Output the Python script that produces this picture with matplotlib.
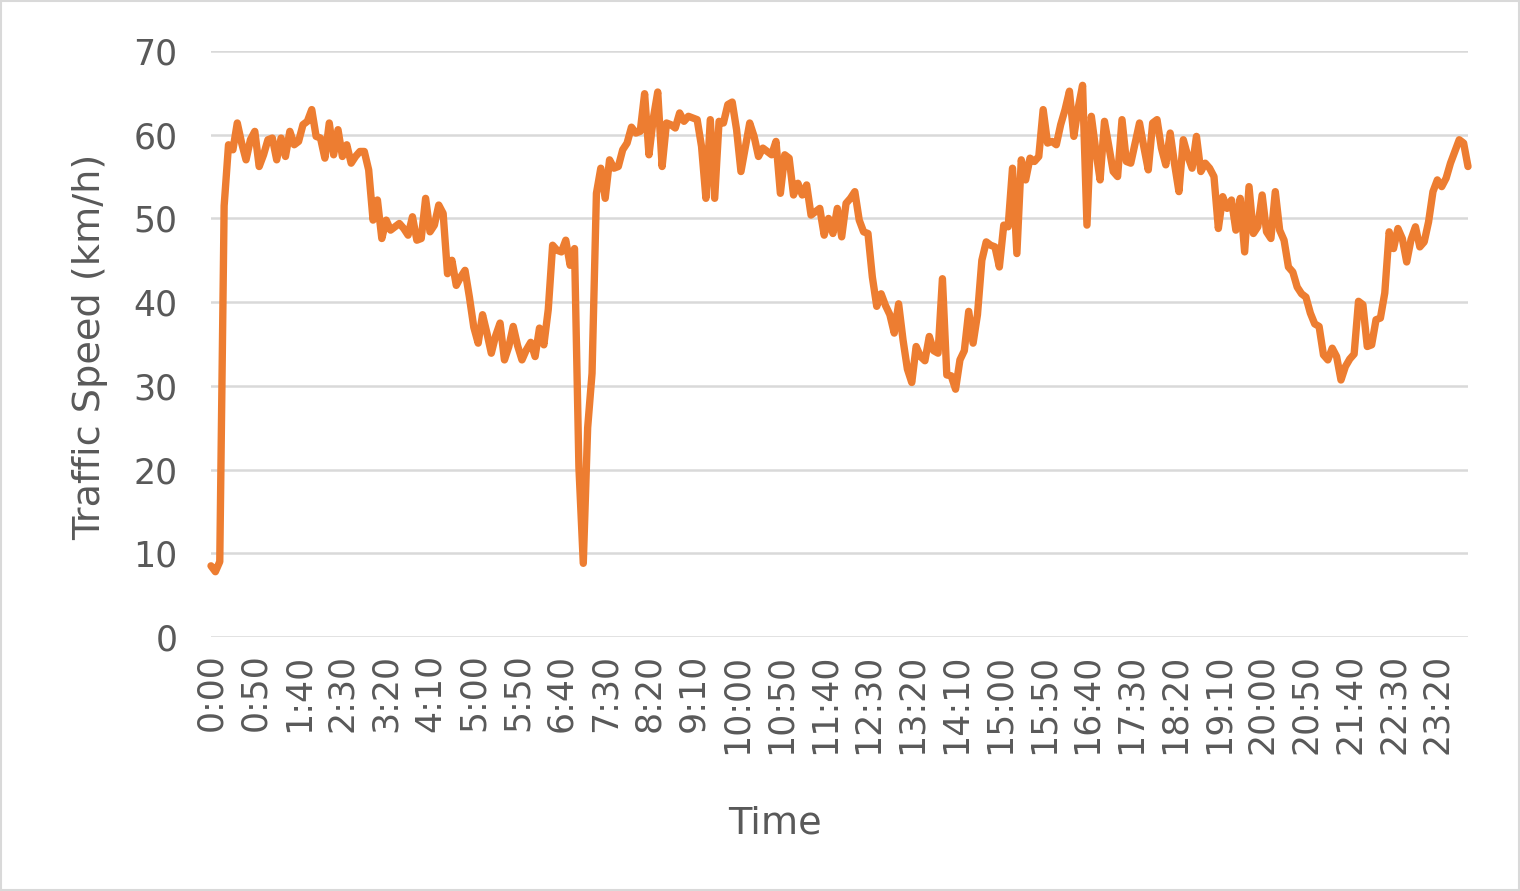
import matplotlib
matplotlib.use("Agg")
import matplotlib.pyplot as plt
from matplotlib.patches import Rectangle

plt.rcParams['font.family'] = ['DejaVu Sans']

# 5-minute time slots over one day
times = [f"{(m // 60)}:{m % 60:02d}" for m in range(0, 24 * 60, 5)]

speed = [
    8.5, 7.8, 9.0, 51.5, 58.8, 58.2, 61.4, 59.0, 57.0, 59.4,
    60.4, 56.2, 57.6, 59.4, 59.6, 57.0, 59.6, 57.4, 60.4, 58.8,
    59.2, 61.2, 61.6, 63.0, 59.8, 59.6, 57.2, 61.4, 57.6, 60.6,
    57.4, 58.8, 56.6, 57.4, 58.0, 58.0, 55.8, 49.8, 52.2, 47.6,
    49.8, 48.6, 49.0, 49.4, 48.8, 48.0, 50.2, 47.4, 47.6, 52.4,
    48.4, 49.2, 51.6, 50.6, 43.4, 45.0, 42.0, 43.0, 43.8, 40.6,
    37.0, 35.1, 38.5, 36.3, 33.9, 36.0, 37.5, 33.1, 34.7, 37.1,
    34.8, 33.1, 34.3, 35.2, 33.5, 36.9, 34.9, 39.1, 46.8, 46.2,
    46.0, 47.4, 44.4, 46.4, 20.3, 8.8, 25.0, 31.5, 53.0, 56.0,
    52.4, 57.0, 56.0, 56.2, 58.2, 59.0, 60.9, 60.2, 60.4, 64.9,
    57.6, 62.0, 65.1, 56.2, 61.4, 61.2, 60.8, 62.6, 61.6, 62.2,
    62.0, 61.8, 58.6, 52.4, 61.8, 52.4, 61.6, 61.4, 63.6, 63.9,
    60.6, 55.6, 58.5, 61.4, 59.8, 57.4, 58.4, 58.0, 57.6, 59.2,
    53.0, 57.6, 57.2, 52.8, 54.2, 52.8, 54.0, 50.4, 50.8, 51.2,
    48.0, 50.0, 48.2, 51.2, 47.8, 51.8, 52.4, 53.2, 49.8, 48.4,
    48.2, 43.0, 39.5, 41.0, 39.6, 38.5, 36.3, 39.8, 35.5, 32.0,
    30.4, 34.7, 33.5, 33.0, 35.9, 34.2, 33.9, 42.8, 31.3, 31.2,
    29.6, 33.1, 34.2, 38.9, 35.1, 38.5, 45.0, 47.2, 46.8, 46.6,
    44.2, 49.2, 49.0, 56.0, 45.8, 57.0, 54.6, 57.2, 56.8, 57.4,
    63.0, 59.0, 59.2, 58.8, 61.2, 63.0, 65.2, 59.8, 63.2, 65.9,
    49.2, 62.2, 58.2, 54.6, 61.6, 58.6, 55.6, 55.0, 61.8, 56.8,
    56.6, 59.0, 61.4, 58.5, 55.8, 61.4, 61.8, 58.4, 56.4, 60.2,
    56.5, 53.2, 59.4, 57.5, 56.0, 59.8, 55.6, 56.6, 56.0, 55.0,
    48.8, 52.6, 51.2, 52.2, 48.6, 52.4, 46.0, 53.8, 48.2, 49.0,
    52.8, 48.4, 47.6, 53.2, 48.6, 47.4, 44.2, 43.6, 41.8, 41.0,
    40.6, 38.7, 37.4, 37.1, 33.7, 33.1, 34.5, 33.5, 30.7, 32.3,
    33.2, 33.8, 40.1, 39.7, 34.7, 34.9, 37.9, 38.1, 41.1, 48.4,
    46.4, 48.8, 47.6, 44.8, 47.5, 49.0, 46.6, 47.2, 49.6, 53.2,
    54.6, 53.8, 54.8, 56.6, 58.0, 59.4, 59.0, 56.2,
]

yticks = [0, 10, 20, 30, 40, 50, 60, 70]

text_color = "#595959"
grid_color = "#D9D9D9"
line_color = "#ED7D31"

fig = plt.figure(figsize=(15.2, 8.91), dpi=100)
ax = fig.add_axes([211 / 1520, 1 - 637 / 891, 1257 / 1520, 586 / 891])

x = list(range(len(speed)))
ax.plot(x, speed, color=line_color, linewidth=5.3, solid_joinstyle="round",
        solid_capstyle="round", zorder=3, clip_on=False)

ax.set_xlim(0, len(speed) - 1)
ax.set_ylim(0, 70)
ax.set_yticks(yticks)
ax.set_yticklabels([str(v) for v in yticks])
ax.set_xticks(x[::10])
ax.set_xticklabels(times[::10], rotation=90)

ax.grid(axis="y", color=grid_color, linewidth=1.8)
ax.grid(axis="x", visible=False)
ax.set_axisbelow(True)
for s in ax.spines.values():
    s.set_visible(False)
ax.tick_params(axis="both", length=0, colors=text_color, labelsize=25)
ax.tick_params(axis="y", pad=24)
ax.tick_params(axis="x", pad=12)

ax.set_xlabel("Time", fontsize=27.5, color=text_color)
ax.set_ylabel("Traffic Speed (km/h)", fontsize=27.5, color=text_color)
ax.xaxis.set_label_coords((775 - 211) / 1257, (637 - 823) / 586)
ax.yaxis.set_label_coords((90 - 211) / 1257, (637 - 347) / 586)
ax.xaxis.label.set_va("center")
ax.yaxis.label.set_va("center")

# chart area border
fig.patches.append(Rectangle((0.0005, 0.0008), 0.999, 0.9985, transform=fig.transFigure,
                             fill=False, edgecolor=grid_color, linewidth=1.5))

fig.savefig("out.png", dpi=100)
